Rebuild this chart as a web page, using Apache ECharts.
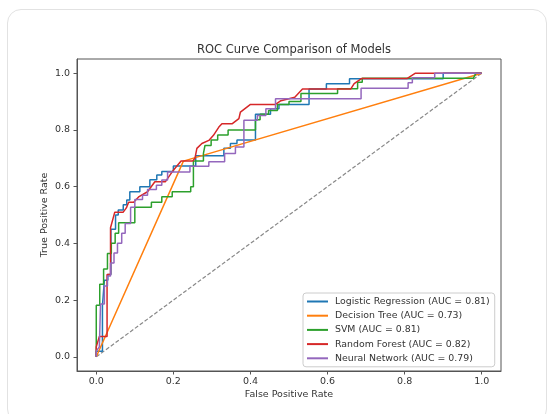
<!DOCTYPE html>
<html>
<head>
<meta charset="utf-8">
<script src="https://cdn.jsdelivr.net/npm/echarts@6/dist/echarts.min.js"></script>
<style>
    html, body { margin: 0; padding: 0; background: #fff; }
    #card {
        position: absolute;
        left: 7px;
        top: 9px;
        width: 540px;
        height: 414px;
        border: 1px solid #e2e2e2;
        border-radius: 14px;
        box-sizing: border-box;
    }
    #chart {
        position: absolute;
        left: 0;
        top: 0;
        width: 549px;
        height: 414px;
    }
</style>
</head>
<body>
<div id="card"></div>
<div id="chart"></div>
<script>
// tick labels
const tickValues = [0, 0.2, 0.4, 0.6, 0.8, 1.0];

// Logistic Regression
const fprLR = [0, 0, 0.016, 0.016, 0.021, 0.021, 0.03, 0.03, 0.038, 0.038, 0.05, 0.05, 0.057, 0.057, 0.07, 0.07, 0.079, 0.079, 0.087, 0.087, 0.113, 0.113, 0.139, 0.139, 0.157, 0.157, 0.17, 0.17, 0.2, 0.2, 0.258, 0.258, 0.331, 0.331, 0.348, 0.348, 0.365, 0.365, 0.413, 0.413, 0.452, 0.452, 0.474, 0.474, 0.552, 0.552, 0.597, 0.597, 0.657, 0.657, 0.9, 0.9, 1];
const tprLR = [0, 0.02, 0.02, 0.18, 0.18, 0.27, 0.27, 0.29, 0.29, 0.45, 0.45, 0.5, 0.5, 0.518, 0.518, 0.536, 0.536, 0.553, 0.553, 0.582, 0.582, 0.6, 0.6, 0.624, 0.624, 0.641, 0.641, 0.653, 0.653, 0.673, 0.673, 0.709, 0.709, 0.735, 0.735, 0.752, 0.752, 0.764, 0.764, 0.855, 0.855, 0.875, 0.875, 0.89, 0.89, 0.944, 0.944, 0.963, 0.963, 0.98, 0.98, 1, 1];

// Decision Tree
const fprDT = [0, 0.226, 1];
const tprDT = [0, 0.69, 1];

// SVM
const fprSVM = [0, 0, 0.009, 0.009, 0.019, 0.019, 0.029, 0.029, 0.039, 0.039, 0.049, 0.049, 0.058, 0.058, 0.1, 0.1, 0.143, 0.143, 0.17, 0.17, 0.197, 0.197, 0.245, 0.245, 0.252, 0.252, 0.278, 0.278, 0.282, 0.282, 0.298, 0.298, 0.315, 0.315, 0.342, 0.342, 0.413, 0.413, 0.425, 0.425, 0.447, 0.447, 0.47, 0.47, 0.5, 0.5, 0.531, 0.531, 0.626, 0.626, 0.678, 0.678, 0.69, 0.69, 0.978, 0.985, 1];
const tprSVM = [0, 0.182, 0.182, 0.256, 0.256, 0.31, 0.31, 0.364, 0.364, 0.4, 0.4, 0.436, 0.436, 0.473, 0.473, 0.527, 0.527, 0.545, 0.545, 0.564, 0.564, 0.582, 0.582, 0.6, 0.6, 0.69, 0.69, 0.717, 0.717, 0.745, 0.745, 0.764, 0.764, 0.782, 0.782, 0.8, 0.8, 0.836, 0.836, 0.855, 0.855, 0.868, 0.868, 0.89, 0.89, 0.9, 0.9, 0.928, 0.928, 0.945, 0.945, 0.968, 0.968, 0.982, 0.982, 1, 1];

// Random Forest
const fprRF = [0, 0, 0.008, 0.028, 0.028, 0.037, 0.037, 0.048, 0.07, 0.078, 0.084, 0.097, 0.111, 0.133, 0.152, 0.179, 0.2, 0.22, 0.25, 0.256, 0.261, 0.274, 0.292, 0.304, 0.318, 0.326, 0.353, 0.37, 0.374, 0.4, 0.465, 0.479, 0.515, 0.535, 0.66, 0.669, 0.688, 0.806, 0.828, 1];
const tprRF = [0, 0.035, 0.072, 0.072, 0.29, 0.29, 0.455, 0.51, 0.51, 0.525, 0.545, 0.545, 0.565, 0.582, 0.617, 0.617, 0.658, 0.69, 0.69, 0.7, 0.735, 0.752, 0.763, 0.781, 0.81, 0.822, 0.822, 0.84, 0.863, 0.89, 0.89, 0.903, 0.915, 0.944, 0.944, 0.963, 0.981, 0.981, 1, 1];

// Neural Network
const fprNN = [0, 0, 0.008, 0.011, 0.011, 0.021, 0.021, 0.029, 0.029, 0.037, 0.037, 0.046, 0.046, 0.055, 0.055, 0.066, 0.066, 0.075, 0.075, 0.089, 0.089, 0.1, 0.1, 0.12, 0.12, 0.133, 0.133, 0.156, 0.156, 0.17, 0.17, 0.185, 0.185, 0.243, 0.243, 0.292, 0.292, 0.333, 0.333, 0.361, 0.361, 0.383, 0.383, 0.418, 0.418, 0.44, 0.44, 0.465, 0.465, 0.687, 0.687, 0.809, 0.809, 0.82, 0.82, 0.878, 0.878, 1];
const tprNN = [0, 0.02, 0.035, 0.035, 0.186, 0.186, 0.25, 0.25, 0.285, 0.285, 0.331, 0.331, 0.366, 0.366, 0.4, 0.4, 0.436, 0.436, 0.47, 0.47, 0.527, 0.527, 0.555, 0.555, 0.57, 0.57, 0.59, 0.59, 0.605, 0.605, 0.623, 0.623, 0.652, 0.652, 0.672, 0.672, 0.688, 0.688, 0.717, 0.717, 0.74, 0.74, 0.834, 0.834, 0.851, 0.851, 0.875, 0.875, 0.91, 0.91, 0.947, 0.947, 0.966, 0.966, 0.984, 0.984, 1, 1];

// chance line
const fprChance = [0, 1];
const tprChance = [0, 1];

const modelNames = [
    'Logistic Regression (AUC = 0.81)',
    'Decision Tree (AUC = 0.73)',
    'SVM (AUC = 0.81)',
    'Random Forest (AUC = 0.82)',
    'Neural Network (AUC = 0.79)'
];
const modelColors = ['#1f77b4', '#ff7f0e', '#2ca02c', '#d62728', '#9467bd'];
const modelFpr = [fprLR, fprDT, fprSVM, fprRF, fprNN];
const modelTpr = [tprLR, tprDT, tprSVM, tprRF, tprNN];

const FONT = '"DejaVu Sans", sans-serif';
const TEXT_COLOR = '#333';
const FRAME_COLOR = '#555';

function pairs(xs, ys) {
    return xs.map((x, i) => [x, ys[i]]);
}

const series = modelNames.map((name, i) => ({
    name: name,
    type: 'line',
    data: pairs(modelFpr[i], modelTpr[i]),
    showSymbol: false,
    symbol: 'none',
    color: modelColors[i],
    lineStyle: { color: modelColors[i], width: 1.5 },
    z: 3 + i
}));

// chance line goes under the models
series.unshift({
    name: 'chance',
    type: 'line',
    data: pairs(fprChance, tprChance),
    showSymbol: false,
    symbol: 'none',
    lineStyle: { color: '#888888', width: 1.2, type: [4, 2] },
    z: 2
});

function axisCommon(name, nameGap, labelMargin) {
    return {
        type: 'value',
        min: -0.05,
        max: 1.05,
        name: name,
        nameLocation: 'middle',
        nameGap: nameGap,
        nameMoveOverlap: false,
        nameTextStyle: { fontFamily: FONT, fontSize: 9.5, color: TEXT_COLOR },
        axisLine: { show: true, onZero: false, lineStyle: { color: FRAME_COLOR, width: 1 } },
        axisTick: {
            show: true,
            length: 3.5,
            customValues: tickValues,
            lineStyle: { color: FRAME_COLOR, width: 1 }
        },
        axisLabel: {
            customValues: tickValues,
            formatter: v => v.toFixed(1),
            margin: labelMargin,
            fontFamily: FONT,
            fontSize: 9.5,
            color: TEXT_COLOR
        },
        splitLine: { show: false }
    };
}

const chart = echarts.init(document.getElementById('chart'), null, { renderer: 'canvas' });

chart.setOption({
    animation: false,
    backgroundColor: 'transparent',
    title: {
        text: 'ROC Curve Comparison of Models',
        left: 289,
        top: 38,
        textAlign: 'center',
        textStyle: { fontFamily: FONT, fontSize: 11.5, fontWeight: 'normal', color: TEXT_COLOR, lineHeight: 14 }
    },
    grid: {
        left: 77,
        top: 59,
        width: 424,
        height: 312,
        show: true,
        borderColor: FRAME_COLOR,
        borderWidth: 1,
        backgroundColor: 'transparent'
    },
    xAxis: axisCommon('False Positive Rate', 19, 6),
    yAxis: axisCommon('True Positive Rate', 27, 7),
    legend: {
        data: modelNames,
        orient: 'vertical',
        left: 303,
        top: 293,
        padding: [3, 5, 3, 4],
        itemWidth: 21,
        itemHeight: 2,
        itemGap: 3.2,
        icon: 'rect',
        selectedMode: false,
        backgroundColor: 'rgba(255,255,255,0.8)',
        borderColor: '#cccccc',
        borderWidth: 1,
        borderRadius: 3,
        textStyle: {
            fontFamily: FONT,
            fontSize: 9.4,
            color: TEXT_COLOR,
            lineHeight: 11,
            padding: [0, 0, 0, 2]
        }
    },
    series: series
});
</script>
</body>
</html>
